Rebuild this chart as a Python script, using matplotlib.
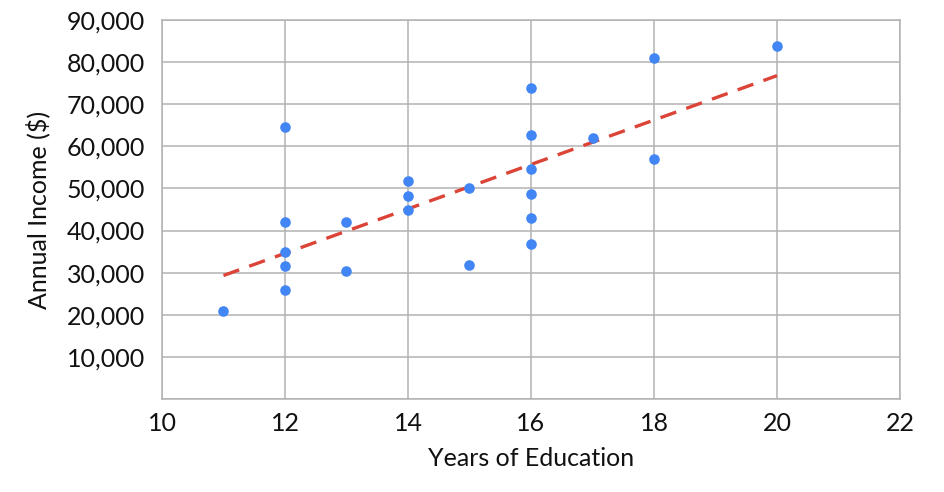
import numpy as np
import matplotlib
matplotlib.use("Agg")
import matplotlib.pyplot as plt
from matplotlib.ticker import FuncFormatter

# anos de estudo e renda anual
anos = [11, 12, 12, 12, 12, 12, 13, 13, 14, 14, 14, 15, 15,
        16, 16, 16, 16, 16, 16, 17, 18, 18, 20]
renda = [21000, 26000, 31500, 34800, 42000, 64600, 30400, 42000,
         44900, 48300, 51800, 31900, 50000,
         36900, 42900, 48800, 54700, 62800, 73800, 62000,
         56900, 80900, 83900]

plt.rcParams['font.family'] = ['Lato', 'DejaVu Sans']

fig = plt.figure(figsize=(9.44, 4.92), dpi=100)
ax = fig.add_axes([0.1716, 0.189, 0.7818, 0.7703])

# linha de tendencia (minimos quadrados)
coef = np.polyfit(anos, renda, 1)
xs = np.array([min(anos), max(anos)])
ax.plot(xs, np.polyval(coef, xs), color='#DB4437', linewidth=2.4,
        linestyle=(0, (5, 3.2)), zorder=2)

ax.scatter(anos, renda, s=58, color='#4285F4', zorder=3, linewidths=0)

ax.set_xlim(10, 22)
ax.set_ylim(0, 90000)
ax.set_xticks(range(10, 23, 2))
ax.set_yticks(range(0, 90001, 10000))
ax.yaxis.set_major_formatter(FuncFormatter(lambda v, p: '' if v == 0 else f'{v:,.0f}'))

ax.grid(True, color='#b3b3b3', linewidth=1.1, zorder=0)
ax.set_axisbelow(True)
for lado in ax.spines.values():
    lado.set_color('#b3b3b3')
    lado.set_linewidth(1.1)

ax.tick_params(length=0, labelsize=18, colors='#111111')
ax.tick_params(axis='y', pad=12)
ax.tick_params(axis='x', pad=9)

ax.set_xlabel('Years of Education', fontsize=18, labelpad=9, color='#111111')
ax.set_ylabel('Annual Income ($)', fontsize=18, labelpad=12, color='#111111')

plt.savefig('out.png', dpi=100)
